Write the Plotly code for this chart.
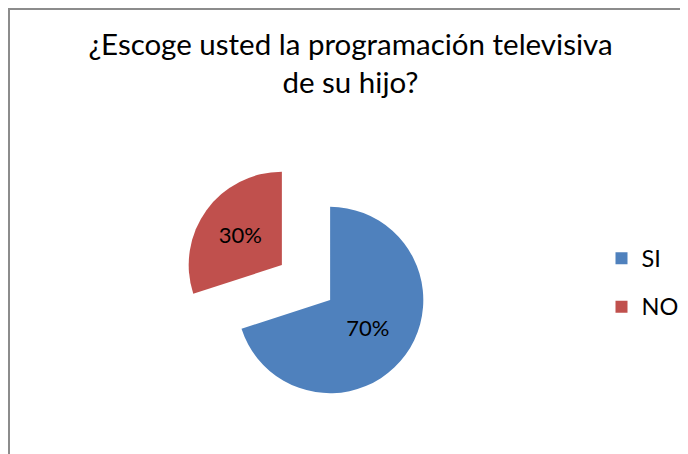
import plotly.graph_objects as go

title_lines = ["¿Escoge usted la programación televisiva", "de su hijo?"]
categories = ["SI", "NO"]
values = [70, 30]
colors = ["#4F81BD", "#C0504D"]

# the page adds an 8px body margin, so the figure is 8px smaller than the window
W, H = 680, 446
FONT = "Lato"

# legend entries: bigger legend font gives taller rows, inner span keeps text size
legend_labels = [
    f'<span style="font-size:23.5px;baseline-shift:5px">{c}</span>' for c in categories
]

# pie box (pixels, figure coordinates): centre and size
cx, cy, box = 298, 274.5, 246
dom_x = [(cx - box / 2) / W, (cx + box / 2) / W]
dom_y = [1 - (cy + box / 2) / H, 1 - (cy - box / 2) / H]

fig = go.Figure(
    go.Pie(
        labels=legend_labels,
        values=values,
        marker=dict(colors=colors, line=dict(width=0)),
        sort=False,
        direction="clockwise",
        rotation=0,
        pull=[0.32, 0.32],
        texttemplate="%{percent:.0%}",
        textposition="inside",
        insidetextorientation="horizontal",
        textfont=dict(size=22, color="black", family=FONT),
        domain=dict(x=dom_x, y=dom_y),
        hoverinfo="skip",
    )
)

fig.update_layout(
    width=W,
    height=H,
    margin=dict(l=0, r=0, t=0, b=0),
    paper_bgcolor="white",
    plot_bgcolor="white",
    font=dict(family=FONT, color="black"),
    title=dict(
        text="<br>".join(title_lines),
        x=342.5 / W,
        xanchor="center",
        xref="paper",
        yref="container",
        y=1 - 47 / H,
        yanchor="top",
        font=dict(size=29.5, family=FONT, color="black"),
    ),
    showlegend=True,
    legend=dict(
        x=593.5 / W,
        xanchor="left",
        y=1 - 221 / H,
        yanchor="top",
        font=dict(size=35, family=FONT, color="black"),
        bgcolor="rgba(0,0,0,0)",
    ),
    shapes=[
        dict(
            type="rect",
            xref="paper",
            yref="paper",
            x0=1 / W,
            x1=1.2,
            y0=-0.2,
            y1=1 - 1 / H,
            line=dict(color="#8C8C8C", width=2),
            fillcolor="rgba(0,0,0,0)",
            layer="below",
        )
    ],
)

fig.write_html("out.html")
